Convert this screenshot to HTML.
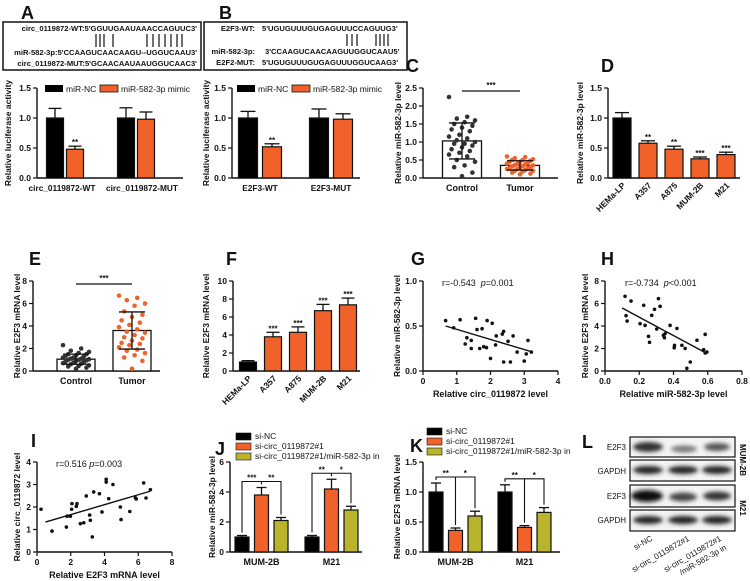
<!DOCTYPE html>
<html><head><meta charset="utf-8"><style>
html,body{margin:0;padding:0;background:#fff;}
svg{display:block;font-family:"Liberation Sans",Arial,sans-serif;}
text{fill:#111;}
</style></head><body>
<svg id="fig" width="750" height="581" viewBox="0 0 750 581" xmlns="http://www.w3.org/2000/svg">
<defs><filter id="blur" x="-20%" y="-50%" width="140%" height="200%"><feGaussianBlur stdDeviation="2.2"/></filter></defs>
<g>
<rect x="3" y="22" width="198" height="48" fill="none" stroke="#111" stroke-width="1.5"/>
<text x="197" y="31" font-size="7.6" font-weight="bold" text-anchor="end">circ_0119872-WT:5'GGUUGAAUAAACCAGUUC3'</text>
<text x="197" y="55" font-size="7.6" font-weight="bold" text-anchor="end">miR-582-3p:5'CCAAGUCAACAAGU--UGGUCAAU3'</text>
<text x="197" y="66" font-size="7.6" font-weight="bold" text-anchor="end">circ_0119872-MUT:5'GCAACAAUAAUGGUCAAC3'</text>
<path d="M96 34V47M100 34V47M104 34V47M113 34V47M147 34V47M153 34V47M159 34V47M165 34V47M171 34V47M177 34V47M182 34V47" stroke="#111" stroke-width="1.2"/>
</g>
<g>
<rect x="204" y="22" width="203" height="48" fill="none" stroke="#111" stroke-width="1.5"/>
<text x="255" y="31" font-size="7.6" font-weight="bold" text-anchor="end">E2F3-WT:</text>
<text x="262" y="31" font-size="7.6" font-weight="bold">5'UGUGUUUGUGAGUUUCCAGUUG3'</text>
<text x="255" y="54" font-size="7.6" font-weight="bold" text-anchor="end">miR-582-3p:</text>
<text x="265" y="54" font-size="7.6" font-weight="bold">3'CCAAGUCAACAAGUUGGUCAAU5'</text>
<text x="255" y="65" font-size="7.6" font-weight="bold" text-anchor="end">E2F2-MUT:</text>
<text x="262" y="65" font-size="7.6" font-weight="bold">5'UGUGUUUGUGAGUUUGGUCAAG3'</text>
<path d="M347 34V46M352 34V46M357 34V46M376 34V46M380 34V46M384 34V46M388 34V46" stroke="#111" stroke-width="1.2"/>
</g>
<g>
<rect x="630" y="437" width="105" height="20" fill="#f4f4f4" stroke="#111" stroke-width="1.2"/>
<rect x="630" y="460" width="105" height="21" fill="#f4f4f4" stroke="#111" stroke-width="1.2"/>
<rect x="630" y="485" width="105" height="22" fill="#f4f4f4" stroke="#111" stroke-width="1.2"/>
<rect x="630" y="510" width="105" height="21" fill="#f4f4f4" stroke="#111" stroke-width="1.2"/>
<g filter="url(#blur)">
<ellipse cx="648" cy="447" rx="15" ry="5" fill="#333"/>
<ellipse cx="684" cy="449" rx="13" ry="3.5" fill="#777"/>
<ellipse cx="717" cy="447" rx="13" ry="4" fill="#555"/>
<ellipse cx="648" cy="470" rx="15" ry="4" fill="#222"/>
<ellipse cx="683" cy="470" rx="15" ry="4" fill="#222"/>
<ellipse cx="717" cy="470" rx="15" ry="4" fill="#222"/>
<ellipse cx="647" cy="496" rx="16" ry="6" fill="#111"/>
<ellipse cx="683" cy="497" rx="14" ry="4.5" fill="#444"/>
<ellipse cx="717" cy="496" rx="14" ry="4.5" fill="#333"/>
<ellipse cx="648" cy="520" rx="15" ry="4" fill="#222"/>
<ellipse cx="683" cy="520" rx="15" ry="4" fill="#222"/>
<ellipse cx="717" cy="520" rx="15" ry="4" fill="#222"/>
</g>
<text x="626" y="450" font-size="8" text-anchor="end">E2F3</text>
<text x="626" y="474" font-size="8" text-anchor="end">GAPDH</text>
<text x="626" y="499" font-size="8" text-anchor="end">E2F3</text>
<text x="626" y="523" font-size="8" text-anchor="end">GAPDH</text>
<text transform="translate(740,460) rotate(90)" font-size="8" font-weight="bold" text-anchor="middle">MUM-2B</text>
<text transform="translate(740,508) rotate(90)" font-size="8" font-weight="bold" text-anchor="middle">M21</text>
<text transform="translate(653,540) rotate(-30)" font-size="8" text-anchor="end">si-NC</text>
<text transform="translate(690,540) rotate(-30)" font-size="8" text-anchor="end">si-circ_0119872#1</text>
<text transform="translate(722,540) rotate(-30)" font-size="8" text-anchor="end">si-circ_0119872#1</text>
<text transform="translate(727,549) rotate(-30)" font-size="8" text-anchor="end">/miR-582-3p in</text>
</g>
</svg>
<script>
const lucCats = ['circ_0119872-WT','circ_0119872-MUT'];
const lucA_nc = [1.0, 1.0];
const lucA_nc_err = [0.16, 0.17];
const lucA_mimic = [0.48, 0.98];
const lucA_mimic_err = [0.05, 0.12];
const lucBCats = ['E2F3-WT','E2F3-MUT'];
const lucB_nc = [1.0, 1.0];
const lucB_nc_err = [0.11, 0.15];
const lucB_mimic = [0.52, 0.98];
const lucB_mimic_err = [0.05, 0.09];
const cellCats = ['HEMa-LP','A357','A875','MUM-2B','M21'];
const mirCell = [1.0, 0.58, 0.48, 0.32, 0.39];
const mirCellErr = [0.09, 0.04, 0.05, 0.03, 0.04];
const mirCellStars = ['', '**', '**', '***', '***'];
const e2f3Cell = [1.0, 3.8, 4.3, 6.7, 7.35];
const e2f3CellErr = [0.15, 0.5, 0.6, 0.7, 0.75];
const e2f3CellStars = ['', '***', '***', '***', '***'];
const tissueCats = ['Control','Tumor'];
const mirControl = [2.25,1.7,1.65,1.6,1.55,1.5,1.45,1.4,1.35,1.3,1.2,1.15,1.1,1.05,1.0,0.95,0.95,0.9,0.85,0.8,0.75,0.7,0.65,0.6,0.5,0.45,0.35,0.3,0.15,0.05];
const mirTumor = [0.6,0.58,0.55,0.52,0.5,0.5,0.48,0.45,0.45,0.42,0.4,0.4,0.38,0.36,0.35,0.33,0.32,0.3,0.3,0.28,0.27,0.25,0.25,0.22,0.2,0.2,0.18,0.15,0.12,0.1];
const mirTissueMean = [1.03, 0.35];
const mirTissueSd = [0.5, 0.13];
const e2fControl = [2.3,2.0,1.8,1.7,1.6,1.5,1.5,1.4,1.35,1.3,1.2,1.2,1.1,1.1,1.05,1.0,1.0,0.95,0.9,0.85,0.8,0.75,0.7,0.65,0.6,0.5,0.45,0.4,0.3,0.2];
const e2fTumor = [6.7,6.5,6.3,6.0,5.8,5.3,5.0,4.8,4.5,4.3,4.1,3.9,3.7,3.5,3.4,3.2,3.0,2.9,2.7,2.5,2.4,2.3,2.1,1.9,1.8,1.6,1.4,1.2,0.9,0.2];
const e2fTissueMean = [1.05, 3.6];
const e2fTissueSd = [0.45, 1.65];
const gX = [0.67,0.91,1.1,1.25,1.3,1.43,1.43,1.56,1.6,1.68,1.75,1.8,1.88,1.9,2.0,2.05,2.17,2.15,2.35,2.39,2.39,2.52,2.59,2.67,2.79,3.0,3.06,3.11,3.21];
const gY = [0.56,0.48,0.57,0.30,0.37,0.34,0.25,0.585,0.46,0.25,0.47,0.27,0.26,0.56,0.14,0.53,0.39,0.29,0.41,0.44,0.10,0.33,0.10,0.39,0.21,0.11,0.19,0.34,0.21];
const gFit = [0.67, 0.50, 3.25, 0.21];
const hX = [0.117,0.123,0.129,0.152,0.205,0.226,0.234,0.254,0.26,0.273,0.289,0.302,0.312,0.322,0.341,0.347,0.351,0.38,0.404,0.406,0.42,0.449,0.468,0.478,0.498,0.537,0.576,0.585,0.595,0.585];
const hY = [6.64,4.92,4.44,6.22,4.21,5.84,4.06,3.08,2.55,4.95,5.48,3.73,6.43,5.75,3.17,2.96,3.32,4.06,2.07,2.28,3.79,2.28,2.01,0.24,0.80,2.73,1.90,3.26,1.69,1.6];
const hFit = [0.1, 5.6, 0.59, 1.6];
const iX = [0.24,0.89,1.74,1.78,1.98,2.05,2.07,2.33,2.37,2.57,2.77,2.92,3.12,3.16,3.28,3.36,3.7,3.85,4.1,4.1,4.25,4.5,4.94,4.98,5.5,5.83,5.88,6.32,6.46,6.72];
const iY = [1.9,0.93,1.11,1.59,1.59,1.9,2.15,2.03,2.15,1.26,1.3,2.49,1.64,1.41,0.67,2.67,2.59,1.78,3.23,3.11,2.37,3.0,2.0,1.44,1.8,2.41,2.36,3.07,2.4,2.77];
const iFit = [0.5, 1.33, 6.7, 2.7];
const rescueCats = ['MUM-2B','M21'];
const jNC = [1.0, 1.0]; const jNCerr = [0.1, 0.1];
const jSi = [3.8, 4.2]; const jSiErr = [0.5, 0.65];
const jIn = [2.1, 2.8]; const jInErr = [0.2, 0.25];
const kNC = [1.0, 1.0]; const kNCerr = [0.15, 0.12];
const kSi = [0.36, 0.41]; const kSiErr = [0.04, 0.03];
const kIn = [0.6, 0.66]; const kInErr = [0.08, 0.08];

const NS='http://www.w3.org/2000/svg';
const svg=document.getElementById('fig');
const OR='#f0622a', YL='#b8b52c';
function mk(tag, attrs, name, txt){
  const e=document.createElementNS(NS,tag);
  for(const k in attrs) e.setAttribute(k, attrs[k]);
  
  
  if(txt!==undefined) e.textContent=txt;
  svg.appendChild(e); return e;
}
function sy(p,v){return p.yb-(v-p.ymin)/(p.ymax-p.ymin)*(p.yb-p.yt);}
function sx(p,v){return p.x0+(v-p.xmin)/(p.xmax-p.xmin)*(p.xe-p.x0);}
function yAxis(p, ticks, title, tx, fmt){
  mk('line',{x1:p.x0,x2:p.x0,y1:p.yt,y2:p.yb,stroke:'#111','stroke-width':1.4},'y-axis');
  ticks.forEach(t=>{
    const y=sy(p,t);
    mk('line',{x1:p.x0-4,x2:p.x0,y1:y,y2:y,stroke:'#111','stroke-width':1.2},'y-tick');
    mk('text',{x:p.x0-6,y:y+3,'font-size':8.5,'font-weight':'bold','text-anchor':'end'},'y-tick-label',fmt(t));
  });
  mk('text',{transform:`translate(${tx},${(p.yt+p.yb)/2}) rotate(-90)`,'font-size':8.5,'font-weight':'bold','text-anchor':'middle'},'y-axis-title',title);
}
function xAxisLine(p){
  mk('line',{x1:p.x0,x2:p.xe,y1:p.yb,y2:p.yb,stroke:'#111','stroke-width':1.4},'x-axis');
}
function bar(p,cx,w,v,err,fill,name){
  const y=sy(p,v), ye=sy(p,v+err);
  mk('line',{x1:cx,x2:cx,y1:ye,y2:y,stroke:'#111','stroke-width':1.3},'error-bar');
  mk('line',{x1:cx-w/2+2,x2:cx+w/2-2,y1:ye,y2:ye,stroke:'#111','stroke-width':1.3},'error-cap');
  mk('rect',{x:cx-w/2,y:y,width:w,height:p.yb-y,fill:fill,stroke:'#111','stroke-width':1.2},name);
  return ye;
}
function letter(x,y,t){mk('text',{x:x,y:y,'font-size':18,'font-weight':'bold'},'panel-label-'+t.toLowerCase(),t);}
function f1(t){return t.toFixed(1);}
function f0(t){return String(t);}

function luc(p,cats,nc,ncE,mi,miE,titleX,gStart,gStep,bStep,w,legX,labelCenters){
  yAxis(p,[0,0.5,1.0,1.5],'Relative luciferase activity',titleX,f1); xAxisLine(p);
  cats.forEach((c,i)=>{
    const cx=gStart+i*gStep;
    bar(p,cx,w,nc[i],ncE[i],'#000','bar-mir-nc');
    const ye=bar(p,cx+bStep,w,mi[i],miE[i],OR,'bar-mir-582-mimic');
    if(mi[i]<0.8) mk('text',{x:cx+bStep,y:ye-1,'font-size':8,'font-weight':'bold','text-anchor':'middle'},'significance','**');
    mk('text',{x:labelCenters[i],y:p.yb+13,'font-size':8.3,'font-weight':'bold','text-anchor':'middle'},'x-tick-label',c);
  });
  mk('rect',{x:legX,y:85,width:18,height:7,fill:'#000'},'legend-swatch-mir-nc');
  mk('text',{x:legX+21,y:92,'font-size':8.5},'legend-entry-mir-nc','miR-NC');
  mk('rect',{x:legX+55,y:85,width:18,height:7,fill:OR,stroke:'#111','stroke-width':0.8},'legend-swatch-mimic');
  mk('text',{x:legX+76,y:92,'font-size':8.5},'legend-entry-mimic','miR-582-3p mimic');
}
luc({x0:37,xe:183,yt:88,yb:178,ymin:0,ymax:1.5},lucCats,lucA_nc,lucA_nc_err,lucA_mimic,lucA_mimic_err,11,55,71,20,17,45,[62,142]);
luc({x0:232,xe:360,yt:88,yb:178,ymin:0,ymax:1.5},lucBCats,lucB_nc,lucB_nc_err,lucB_mimic,lucB_mimic_err,209,248,71,24,19,237,[260,331]);
letter(21,19,'A'); letter(219,19,'B');

function dotBar(p,cats,groups,mean,sd,ticks,fmt,title,tx,centers,w){
  yAxis(p,ticks,title,tx,fmt); xAxisLine(p);
  cats.forEach((c,i)=>{
    const cx=centers[i];
    const y=sy(p,mean[i]);
    mk('rect',{x:cx-w/2,y:y,width:w,height:p.yb-y,fill:'#fff',stroke:'#111','stroke-width':1.3},'bar-'+c.toLowerCase());
    groups[i].forEach((v,j)=>{
      const dx=(((j*7)%11)-5)*2.6;
      mk('circle',{cx:cx+dx,cy:sy(p,v),r:2.3,fill:i===0?'#333':OR},'point-'+c.toLowerCase());
    });
    const yl=sy(p,mean[i]-sd[i]), yh=sy(p,mean[i]+sd[i]);
    mk('line',{x1:cx,x2:cx,y1:yh,y2:yl,stroke:'#111','stroke-width':1.3},'sd-bar');
    mk('line',{x1:cx-13,x2:cx+13,y1:yh,y2:yh,stroke:'#111','stroke-width':1.3},'sd-cap-high');
    mk('line',{x1:cx-13,x2:cx+13,y1:yl,y2:yl,stroke:'#111','stroke-width':1.3},'sd-cap-low');
    mk('text',{x:cx,y:p.yb+13,'font-size':9,'font-weight':'bold','text-anchor':'middle'},'x-tick-label',c);
  });
  mk('line',{x1:centers[0],x2:centers[1],y1:p.yt+3,y2:p.yt+3,stroke:'#111','stroke-width':1.2},'significance-line');
  mk('text',{x:(centers[0]+centers[1])/2,y:p.yt,'font-size':8,'font-weight':'bold','text-anchor':'middle'},'significance','***');
}
dotBar({x0:423,xe:558,yt:88,yb:178,ymin:0,ymax:2.5},tissueCats,[mirControl,mirTumor],mirTissueMean,mirTissueSd,[0,0.5,1.0,1.5,2.0,2.5],f1,'Relative miR-582-3p level',401,[462,520],39);
dotBar({x0:33,xe:160,yt:281,yb:371,ymin:0,ymax:8},tissueCats,[e2fControl,e2fTumor],e2fTissueMean,e2fTissueSd,[0,2,4,6,8],f0,'Relative  E2F3  mRNA level',20,[76,132],38);
letter(406,72,'C'); letter(29,265,'E');

function cellBars(p,vals,errs,stars,ticks,fmt,title,tx,start,step,w){
  yAxis(p,ticks,title,tx,fmt); xAxisLine(p);
  cellCats.forEach((c,i)=>{
    const cx=start+i*step;
    const ye=bar(p,cx,w,vals[i],errs[i],i===0?'#000':OR,'bar-'+c.toLowerCase());
    if(stars[i]) mk('text',{x:cx,y:ye-1,'font-size':8,'font-weight':'bold','text-anchor':'middle'},'significance',stars[i]);
    mk('text',{transform:`translate(${cx+4},${p.yb+8}) rotate(-45)`,'font-size':8.5,'font-weight':'bold','text-anchor':'end'},'x-tick-label',c);
  });
}
cellBars({x0:608,xe:740,yt:88,yb:178,ymin:0,ymax:1.5},mirCell,mirCellErr,mirCellStars,[0,0.5,1.0,1.5],f1,'Relative miR-582-3p level',583,622,26,18);
cellBars({x0:233,xe:360,yt:281,yb:371,ymin:0,ymax:10},e2f3Cell,e2f3CellErr,e2f3CellStars,[0,2,4,6,8,10],f0,'Relative  E2F3  mRNA level',209,248,25,17);
letter(601,72,'D'); letter(226,265,'F');

function scatter(p,xs,ys,fit,xt,yt,xfmt,yfmt,xtitle,ytitle,tx,anno){
  mk('line',{x1:p.x0,x2:p.xe,y1:p.yb,y2:p.yb,stroke:'#111','stroke-width':1.4},'x-axis');
  xt.forEach(t=>{const x=sx(p,t);
    mk('line',{x1:x,x2:x,y1:p.yb,y2:p.yb+4,stroke:'#111','stroke-width':1.2},'x-tick');
    mk('text',{x:x,y:p.yb+13,'font-size':8.5,'font-weight':'bold','text-anchor':'middle'},'x-tick-label',xfmt(t));});
  yAxis(p,yt,ytitle,tx,yfmt);
  mk('text',{x:(p.x0+p.xe)/2,y:p.yb+26,'font-size':9,'font-weight':'bold','text-anchor':'middle'},'x-axis-title',xtitle);
  xs.forEach((v,i)=>{
    mk('circle',{cx:sx(p,v),cy:sy(p,ys[i]),r:1.8,fill:'#111'},'point');
  });
  mk('line',{x1:sx(p,fit[0]),y1:sy(p,fit[1]),x2:sx(p,fit[2]),y2:sy(p,fit[3]),stroke:'#111','stroke-width':1.4},'regression-line');
  const a=mk('text',{x:anno[0],y:anno[1],'font-size':9,fill:'#333'},'correlation-annotation');
  a.innerHTML=anno[2];
}
scatter({x0:423,xe:558,yt:281,yb:371,xmin:0,xmax:4,ymin:0,ymax:1.0},gX,gY,gFit,[0,1,2,3,4],[0,0.5,1.0],f0,f1,'Relative circ_0119872 level','Relative miR-582-3p level',400,[442,286,'r=-0.543 &#160;<tspan font-style="italic">p</tspan>=0.001']);
scatter({x0:605,xe:742,yt:281,yb:371,xmin:0,xmax:0.8,ymin:0,ymax:8},hX,hY,hFit,[0,0.2,0.4,0.6,0.8],[0,2,4,6,8],f1,f0,'Relative miR-582-3p level','Relative  E2F3  mRNA level',588,[625,286,'r=-0.734 &#160;<tspan font-style="italic">p</tspan>&lt;0.001']);
scatter({x0:37,xe:172,yt:462,yb:552,xmin:0,xmax:8,ymin:0,ymax:4},iX,iY,iFit,[0,2,4,6,8],[0,1,2,3,4],f0,f0,'Relative  E2F3  mRNA level','Relative circ_0119872 level',20,[56,467,'r=0.516 <tspan font-style="italic">p</tspan>=0.003']);
letter(411,265,'G'); letter(601,265,'H'); letter(31,447,'I');

function rescue(p,nc,ncE,si,siE,inh,inE,ticks,fmt,title,tx,gStart,gStep,bStep,w,legX,legY,stars){
  yAxis(p,ticks,title,tx,fmt); xAxisLine(p);
  rescueCats.forEach((c,i)=>{
    const cx=gStart+i*gStep;
    const y1=bar(p,cx,w,nc[i],ncE[i],'#000','bar-si-nc');
    const y2=bar(p,cx+bStep,w,si[i],siE[i],OR,'bar-si-circ');
    const y3=bar(p,cx+2*bStep,w,inh[i],inE[i],YL,'bar-si-circ-mir-in');
    const top=Math.min(y1,y2,y3)-6;
    mk('path',{d:`M${cx} ${y1-3}V${top}H${cx+bStep}V${y2-3}`,fill:'none',stroke:'#111','stroke-width':1.1},'significance-bracket');
    mk('path',{d:`M${cx+bStep} ${top}H${cx+2*bStep}V${y3-3}`,fill:'none',stroke:'#111','stroke-width':1.1},'significance-bracket');
    mk('text',{x:cx+bStep/2,y:top-1,'font-size':8,'font-weight':'bold','text-anchor':'middle'},'significance',stars[i][0]);
    mk('text',{x:cx+1.5*bStep,y:top-1,'font-size':8,'font-weight':'bold','text-anchor':'middle'},'significance',stars[i][1]);
    mk('text',{x:cx+bStep,y:p.yb+13,'font-size':9,'font-weight':'bold','text-anchor':'middle'},'x-tick-label',c);
  });
  const labs=['si-NC','si-circ_0119872#1','si-circ_0119872#1/miR-582-3p in'];
  const cols=['#000',OR,YL];
  labs.forEach((l,i)=>{
    mk('rect',{x:legX,y:legY+i*10-6,width:15,height:7,fill:cols[i],stroke:'#111','stroke-width':0.6},'legend-swatch');
    mk('text',{x:legX+19,y:legY+i*10,'font-size':8.5},'legend-entry',l);
  });
}
rescue({x0:230,xe:362,yt:462,yb:552,ymin:0,ymax:6},jNC,jNCerr,jSi,jSiErr,jIn,jInErr,[0,2,4,6],f0,'Relative miR-582-3p level',215,242,70,19.5,14,236,439,[['***','**'],['**','*']]);
rescue({x0:423,xe:560,yt:462,yb:552,ymin:0,ymax:1.5},kNC,kNCerr,kSi,kSiErr,kIn,kInErr,[0,0.5,1.0,1.5],f1,'Relative  E2F3  mRNA level',400,436,69,19.5,14,427,434,[['**','*'],['**','*']]);
letter(215,455,'J'); letter(410,452,'K'); letter(582,448,'L');
</script>
</body></html>
